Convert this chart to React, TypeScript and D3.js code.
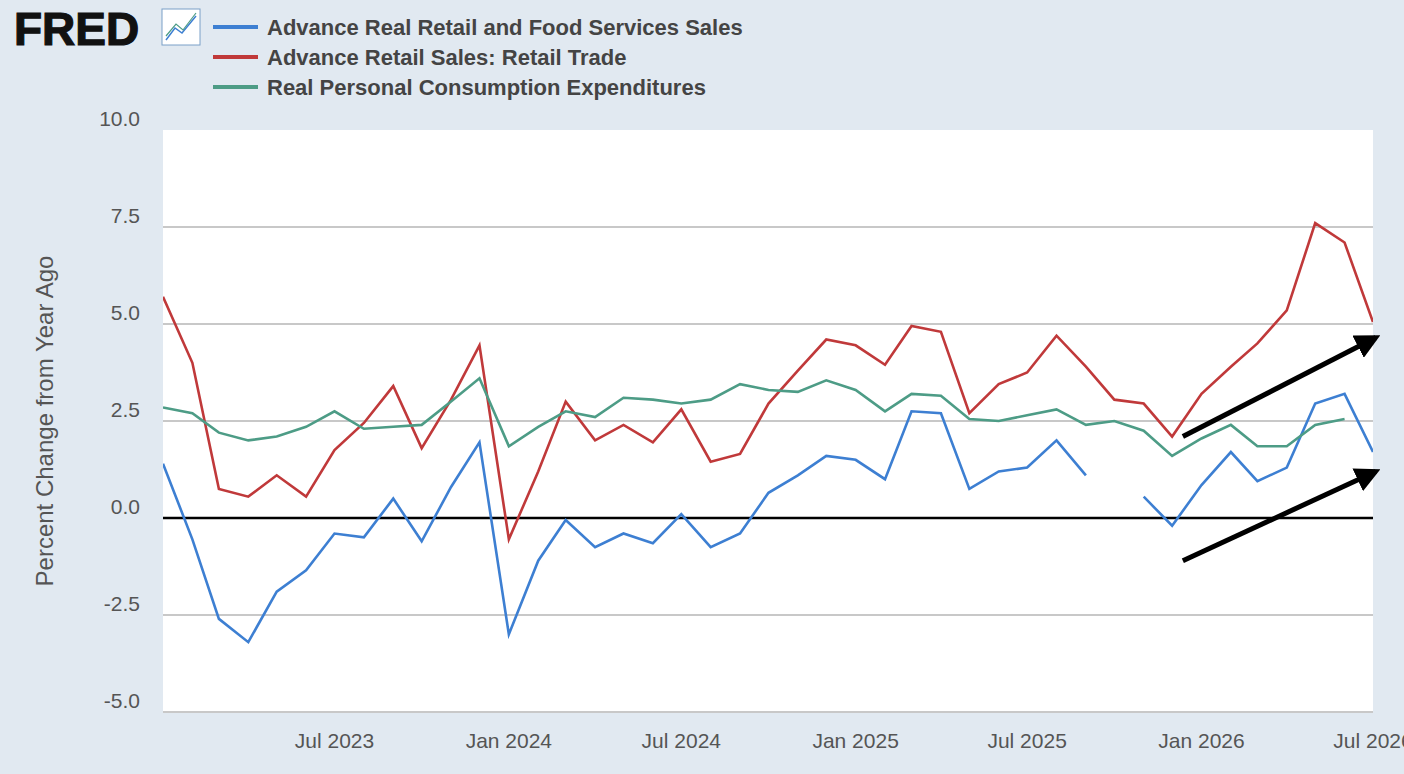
import { useEffect } from "react";
import * as d3 from "d3";

const startYear = 2023;
const blue: (number | null)[] = [
  1.4, -0.55, -2.6, -3.2, -1.9, -1.35, -0.4, -0.5, 0.5, -0.6, 0.8, 1.95,
  -3.0, -1.1, -0.05, -0.75, -0.4, -0.65, 0.1, -0.75, -0.4, 0.65, 1.1, 1.6,
  1.5, 1.0, 2.75, 2.7, 0.75, 1.2, 1.3, 2.0, 1.1, null, 0.55, -0.2,
  0.85, 1.7, 0.95, 1.3, 2.95, 3.2, 1.7,
];
const red: (number | null)[] = [
  5.7, 4.0, 0.75, 0.55, 1.1, 0.55, 1.75, 2.45, 3.4, 1.8, 3.05, 4.45,
  -0.55, 1.2, 3.0, 2.0, 2.4, 1.95, 2.8, 1.45, 1.65, 2.95, 3.8, 4.6,
  4.45, 3.95, 4.95, 4.8, 2.7, 3.45, 3.75, 4.7, 3.9, 3.05, 2.95, 2.1,
  3.2, 3.9, 4.5, 5.35, 7.6, 7.1, 5.05,
];
const green: (number | null)[] = [
  2.85, 2.7, 2.2, 2.0, 2.1, 2.35, 2.75, 2.3, 2.35, 2.4, 3.0, 3.6,
  1.85, 2.35, 2.75, 2.6, 3.1, 3.05, 2.95, 3.05, 3.45, 3.3, 3.25, 3.55,
  3.3, 2.75, 3.2, 3.15, 2.55, 2.5, 2.65, 2.8, 2.4, 2.5, 2.25, 1.6,
  2.05, 2.4, 1.85, 1.85, 2.4, 2.55, null,
];
const seriesNames = [
  "Advance Real Retail and Food Services Sales",
  "Advance Retail Sales: Retail Trade",
  "Real Personal Consumption Expenditures",
];
const colors = ["#3d7fd2", "#c0393a", "#4d9c86"];
const yTicks = [-5, -2.5, 0, 2.5, 5, 7.5, 10];
const xTickDates = ["2023-07", "2024-01", "2024-07", "2025-01", "2025-07", "2026-01", "2026-07"];
// arrows drawn as [fromMonth, fromValue, toMonth, toValue]
const arrows = [
  [35.4, 2.1, 42.1, 4.65],
  [35.4, -1.1, 42.1, 1.2],
];

const fmtTick = d3.timeFormat("%b %Y");

export default function App() {
  useEffect(() => {
    document.body.style.margin = "0";
  }, []);
  const W = 1404, H = 774;
  const left = 163, right = 1373, top = 130, bottom = 712;
  const dates = blue.map((_, i) => new Date(startYear, i, 1));
  const x = d3.scaleTime().domain([dates[0], dates[dates.length - 1]]).range([left, right]);
  const y = d3.scaleLinear().domain([-5, 10]).range([bottom, top]);
  const line = d3
    .line<number | null>()
    .defined((d) => d !== null)
    .x((_, i) => x(dates[i]))
    .y((d) => y(d as number));
  const mx = (m: number) => x(new Date(startYear, 0, 1)) + (m / 42) * (right - left);
  const font = "'Liberation Sans', Arial, sans-serif";
  return (
    <svg width={W} height={H} style={{ display: "block", background: "#e1e9f1" }}>
      <defs>
        <marker id="ah" viewBox="0 0 10 10" refX="8" refY="5" markerWidth="5" markerHeight="5" orient="auto">
          <path d="M0,0 L10,5 L0,10 z" fill="#000" />
        </marker>
        <clipPath id="clip">
          <rect x={left} y={top} width={right - left} height={bottom - top} />
        </clipPath>
      </defs>
      <text x={14} y={45} fontFamily={font} fontWeight="900" fontSize={46} fill="#111" stroke="#111" strokeWidth={1.2}>FRED</text>
      <rect x={162} y={9} width={38} height={36} fill="#fff" stroke="#7aa0c8" />
      <path d="M166,40 L175,28 L182,33 L196,16" stroke="#3d7fd2" fill="none" strokeWidth={1.5} />
      <path d="M166,36 L176,24 L183,30 L196,13" stroke="#4d9c86" fill="none" strokeWidth={1.2} />
      {seriesNames.map((n, i) => (
        <g key={n}>
          <line x1={213} x2={258} y1={27 + i * 30} y2={27 + i * 30} stroke={colors[i]} strokeWidth={4} />
          <text x={267} y={35 + i * 30} fontFamily={font} fontWeight="bold" fontSize={22} fill="#444">{n}</text>
        </g>
      ))}
      <rect x={left} y={top} width={right - left} height={bottom - top} fill="#fff" />
      {yTicks.map((t) => (
        <g key={t}>
          {t !== 0 && t !== 10 && (
            <line x1={left} x2={right} y1={y(t)} y2={y(t)} stroke="#c8c8c8" strokeWidth={2} />
          )}
          <text x={140} y={y(t) - 4} textAnchor="end" fontFamily={font} fontSize={21} fill="#555">
            {t.toFixed(1)}
          </text>
        </g>
      ))}
      <text
        transform={`translate(53,${(top + bottom) / 2}) rotate(-90)`}
        textAnchor="middle"
        fontFamily={font}
        fontSize={24}
        fill="#555"
      >
        Percent Change from Year Ago
      </text>
      {xTickDates.map((s) => {
        const d = d3.timeParse("%Y-%m")(s)!;
        return (
          <text key={s} x={x(d)} y={748} textAnchor="middle" fontFamily={font} fontSize={21} fill="#555">
            {fmtTick(d)}
          </text>
        );
      })}
      <g clipPath="url(#clip)">
        <line x1={left} x2={right} y1={y(0)} y2={y(0)} stroke="#000" strokeWidth={2.5} />
        {[blue, red, green].map((s, i) => (
          <path key={i} d={line(s) ?? ""} fill="none" stroke={colors[i]} strokeWidth={2.6} />
        ))}
      </g>
      {arrows.map((a, i) => (
        <line
          key={i}
          x1={mx(a[0])}
          y1={y(a[1])}
          x2={mx(a[2])}
          y2={y(a[3])}
          stroke="#000"
          strokeWidth={5}
          markerEnd="url(#ah)"
        />
      ))}
    </svg>
  );
}
